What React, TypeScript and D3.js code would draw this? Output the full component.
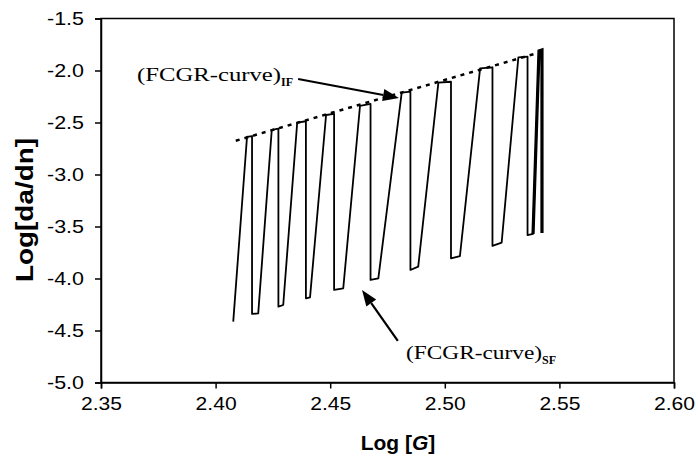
import { useEffect, useRef } from 'react'
import * as d3 from 'd3'

const WIDTH = 698
const HEIGHT = 462
const PLOT = { left: 101, right: 674, top: 18.5, bottom: 382.5 }

const xTicks = [2.35, 2.4, 2.45, 2.5, 2.55, 2.6]
const yTicks = [-1.5, -2.0, -2.5, -3.0, -3.5, -4.0, -4.5, -5.0]

// (FCGR-curve)IF : upper bound, drawn dashed
const ifLogG = [2.4088, 2.542]
const ifLogDadn = [-2.675, -1.822]

// crack-growth path: climbs from the SF curve to the IF curve, then drops back
const sawLogG = [
  2.4077, 2.4137, 2.4159, 2.4159, 2.4186, 2.4245, 2.4274, 2.4274, 2.4295, 2.4356,
  2.4394, 2.4394, 2.4412, 2.4482, 2.4517, 2.4517, 2.4557, 2.463, 2.4676, 2.4676,
  2.471, 2.4812, 2.485, 2.485, 2.4884, 2.4972, 2.5027, 2.5027, 2.5066, 2.5154,
  2.5208, 2.5208, 2.5248, 2.5321, 2.5361, 2.5361, 2.5385, 2.5411, 2.5424, 2.5424,
]
const sawLogDadn = [
  -4.415, -2.639, -2.63, -4.341, -4.335, -2.572, -2.56, -4.271, -4.255, -2.502,
  -2.488, -4.19, -4.181, -2.428, -2.418, -4.11, -4.094, -2.341, -2.322, -4.014,
  -3.998, -2.213, -2.204, -3.918, -3.886, -2.117, -2.108, -3.806, -3.784, -1.979,
  -1.969, -3.687, -3.656, -1.873, -1.867, -3.582, -3.572, -1.812, -1.803, -3.562,
]

// annotation arrows: [tailG, tailDadn, tipG, tipDadn]
const ifArrow = [2.436, -2.082, 2.48, -2.264]
const sfArrow = [2.4795, -4.6, 2.4639, -4.11]

const SERIF = '"Liberation Serif", "Times New Roman", serif'
const SANS = '"Liberation Sans", Arial, sans-serif'

export default function App() {
  const svgRef = useRef<SVGSVGElement>(null)

  useEffect(() => {
    if (!svgRef.current) return
    const x = d3.scaleLinear().domain([2.35, 2.6]).range([PLOT.left, PLOT.right])
    const y = d3.scaleLinear().domain([-5.0, -1.5]).range([PLOT.bottom, PLOT.top])

    const svg = d3.select(svgRef.current)
    svg.selectAll('*').remove()

    svg.append('rect').attr('width', WIDTH).attr('height', HEIGHT).attr('fill', '#fff')

    // plot frame
    svg.append('rect')
      .attr('x', PLOT.left)
      .attr('y', PLOT.top)
      .attr('width', PLOT.right - PLOT.left)
      .attr('height', PLOT.bottom - PLOT.top)
      .attr('fill', 'none')
      .attr('stroke', '#000')
      .attr('stroke-width', 1.5)

    // axes
    svg.append('g')
      .attr('transform', `translate(${PLOT.left},0)`)
      .call(d3.axisLeft(y).tickValues(yTicks).tickSize(6).tickPadding(11).tickFormat((d) => (+d).toFixed(1)))
      .call((g) => {
        g.select('.domain').attr('stroke', '#000').attr('stroke-width', 1.5)
        g.selectAll('.tick line').attr('stroke', '#000').attr('stroke-width', 1.5)
        g.selectAll('.tick text')
          .attr('fill', '#000')
          .attr('font-size', 19)
          .attr('font-family', SANS)
          .attr('textLength', 37)
          .attr('lengthAdjust', 'spacingAndGlyphs')
      })

    svg.append('g')
      .attr('transform', `translate(0,${PLOT.bottom})`)
      .call(d3.axisBottom(x).tickValues(xTicks).tickSize(6).tickPadding(8).tickFormat((d) => (+d).toFixed(2)))
      .call((g) => {
        g.select('.domain').attr('stroke', '#000').attr('stroke-width', 1.5)
        g.selectAll('.tick line').attr('stroke', '#000').attr('stroke-width', 1.5)
        g.selectAll('.tick text')
          .attr('fill', '#000')
          .attr('font-size', 19)
          .attr('font-family', SANS)
          .attr('textLength', 41)
          .attr('lengthAdjust', 'spacingAndGlyphs')
      })

    // axis titles
    svg.append('text')
      .attr('x', 398)
      .attr('y', 450)
      .attr('text-anchor', 'middle')
      .attr('font-family', SANS)
      .attr('font-weight', 'bold')
      .attr('font-size', 21)
      .text('Log [')
      .call((t) => {
        t.append('tspan').attr('font-style', 'italic').text('G')
        t.append('tspan').text(']')
      })

    svg.append('text')
      .attr('transform', 'translate(33,210) rotate(-90)')
      .attr('text-anchor', 'middle')
      .attr('font-family', SANS)
      .attr('font-weight', 'bold')
      .attr('font-size', 23)
      .attr('textLength', 144)
      .attr('lengthAdjust', 'spacingAndGlyphs')
      .text('Log[da/dn]')

    const line = d3.line<[number, number]>().x((d) => x(d[0])).y((d) => y(d[1]))

    // IF curve (dashed)
    const ifPts = ifLogG.map((g, i) => [g, ifLogDadn[i]] as [number, number])
    svg.append('path')
      .attr('d', line(ifPts))
      .attr('fill', 'none')
      .attr('stroke', '#000')
      .attr('stroke-width', 2.5)
      .attr('stroke-dasharray', '4 5')

    // sawtooth crack-growth path
    const sawPts = sawLogG.map((g, i) => [g, sawLogDadn[i]] as [number, number])
    svg.append('path')
      .attr('d', line(sawPts))
      .attr('fill', 'none')
      .attr('stroke', '#000')
      .attr('stroke-width', 1.8)
      .attr('stroke-linejoin', 'round')

    // last cycle is heavily overdrawn in the original
    svg.append('path')
      .attr('d', line(sawPts.slice(-4)))
      .attr('fill', 'none')
      .attr('stroke', '#000')
      .attr('stroke-width', 3.2)

    // arrows
    const drawArrow = (a: number[]) => {
      const [x0, y0, x1, y1] = [x(a[0]), y(a[1]), x(a[2]), y(a[3])]
      const ang = Math.atan2(y1 - y0, x1 - x0)
      const len = 16
      const half = 6
      const bx = x1 - len * Math.cos(ang)
      const by = y1 - len * Math.sin(ang)
      svg.append('line')
        .attr('x1', x0).attr('y1', y0).attr('x2', bx).attr('y2', by)
        .attr('stroke', '#000').attr('stroke-width', 2.2)
      svg.append('path')
        .attr('d', `M${x1},${y1}L${bx - half * Math.sin(ang)},${by + half * Math.cos(ang)}L${bx + half * Math.sin(ang)},${by - half * Math.cos(ang)}Z`)
        .attr('fill', '#000')
    }
    drawArrow(ifArrow)
    drawArrow(sfArrow)

    // curve labels
    const label = (lx: number, ly: number, sub: string, w: number) => {
      const t = svg.append('text')
        .attr('x', lx)
        .attr('y', ly)
        .attr('font-family', SERIF)
        .attr('font-size', 19)
        .attr('fill', '#000')
      t.append('tspan').attr('textLength', w).attr('lengthAdjust', 'spacingAndGlyphs').text('(FCGR-curve)')
      t.append('tspan').attr('dy', 5).attr('font-size', 12).attr('font-weight', 'bold').text(sub)
    }
    label(137, 81, 'IF', 144)
    label(406, 359, 'SF', 136)
  }, [])

  return (
    <svg
      ref={svgRef}
      width={WIDTH}
      height={HEIGHT}
      style={{ position: 'absolute', left: 0, top: 0, display: 'block' }}
    />
  )
}
